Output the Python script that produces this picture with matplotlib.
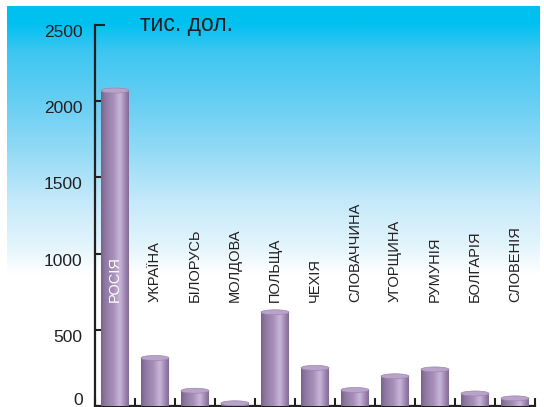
import numpy as np
import matplotlib
matplotlib.use("Agg")
import matplotlib.pyplot as plt
from matplotlib.colors import LinearSegmentedColormap
from matplotlib.patches import Ellipse
from matplotlib.transforms import ScaledTranslation

# ---- data ----
countries = ["РОСІЯ", "УКРАЇНА", "БІЛОРУСЬ", "МОЛДОВА", "ПОЛЬЩА", "ЧЕХІЯ",
             "СЛОВАЧЧИНА", "УГОРЩИНА", "РУМУНІЯ", "БОЛГАРІЯ", "СЛОВЕНІЯ"]
values = [2070, 315, 100, 18, 615, 250, 105, 195, 240, 82, 50]
yticks = [0, 500, 1000, 1500, 2000, 2500]
unit_label = "тис. дол."

W, H = 544, 407
fig = plt.figure(figsize=(W / 100, H / 100), dpi=100)
fig.patch.set_facecolor("white")

# background gradient (figure-level)
bg = fig.add_axes([0, 0, 1, 1], zorder=0)
bg.set_xlim(0, W)
bg.set_ylim(H, 0)
bg.axis("off")
gy0, gy1 = 6, 275
def fr(y):
    return (y - gy0) / (gy1 - gy0)
bg_cmap = LinearSegmentedColormap.from_list(
    "bg", [(0.0, "#00c0f0"), (fr(23), "#00c1f1"), (fr(50), "#3cc6f1"),
           (fr(100), "#66cef3"), (fr(150), "#92daf6"), (fr(200), "#c4e9fa"),
           (fr(245), "#e2f4fc"), (1.0, "#ffffff")])
grad = np.linspace(0, 1, 512).reshape(-1, 1)
bg.imshow(grad, cmap=bg_cmap, extent=(7, 540, gy1, gy0), aspect="auto",
          interpolation="bilinear")

# main axes
x0, x1 = 95, 535
y_top, y_zero = 25, 406
ax = fig.add_axes([x0 / W, (H - y_zero) / H, (x1 - x0) / W, (y_zero - y_top) / H],
                  zorder=1)
ax.patch.set_alpha(0)

xs = np.arange(len(countries))
bw = 0.7
bars = ax.bar(xs, values, width=bw, color="#a58cb8", zorder=2)

bar_cmap = LinearSegmentedColormap.from_list(
    "bar", [(0.0, "#76628a"), (0.15, "#8f79a3"), (0.45, "#a890bb"),
            (0.68, "#cab6da"), (0.85, "#a48bb6"), (1.0, "#7f6a93")])
hgrad = np.linspace(0, 1, 128).reshape(1, -1)
px_per_unit = (y_zero - y_top) / 2500.0
ell_h = 5 / px_per_unit
for b, v in zip(bars, values):
    bx = b.get_x()
    im = ax.imshow(hgrad, cmap=bar_cmap, extent=(bx, bx + bw, 0, v),
                   aspect="auto", zorder=3, interpolation="bilinear")
    im.set_clip_path(b)
    ax.add_patch(Ellipse((bx + bw / 2, v), bw, ell_h, facecolor="#b9a3c9",
                         edgecolor="#9c86ad", lw=0.5, zorder=4))

ax.set_xlim(-0.5, len(countries) - 0.5)
ax.set_ylim(0, 2500)

for sp in ["top", "right"]:
    ax.spines[sp].set_visible(False)
for sp in ["left", "bottom"]:
    ax.spines[sp].set_linewidth(1.6)
    ax.spines[sp].set_color("#231f20")

ax.set_yticks(yticks)
ax.set_yticklabels([str(t) for t in yticks])
ax.tick_params(axis="y", direction="in", length=7.5, width=1.5, color="#231f20",
               pad=9, labelsize=12.5, labelcolor="#231f20")
for t, lab in zip(yticks, ax.get_yticklabels()):
    lab.set_fontfamily(["Liberation Sans Narrow", "Liberation Sans", "DejaVu Sans"])
    dy = 7 if t == 0 else -6
    lab.set_transform(lab.get_transform() + ScaledTranslation(0, dy / 100, fig.dpi_scale_trans))

ax.set_xticks(np.arange(-0.5, len(countries), 1.0))
ax.set_xticklabels([])
ax.tick_params(axis="x", direction="in", length=5.5, width=1.5, color="#231f20")

label_y = (y_zero - 302) / px_per_unit
for i, name in enumerate(countries):
    ax.text(xs[i], label_y, name, rotation=90, ha="center", va="bottom",
            fontsize=10.5, color="white" if i == 0 else "#231f20",
            fontfamily=["Liberation Sans", "DejaVu Sans"], zorder=5)

fig.text(186 / W, 1 - 25 / H, unit_label, ha="center", va="center",
         fontsize=16.5, color="#231f20", fontfamily=["Liberation Sans", "DejaVu Sans"])

fig.savefig("out.png", dpi=100)
